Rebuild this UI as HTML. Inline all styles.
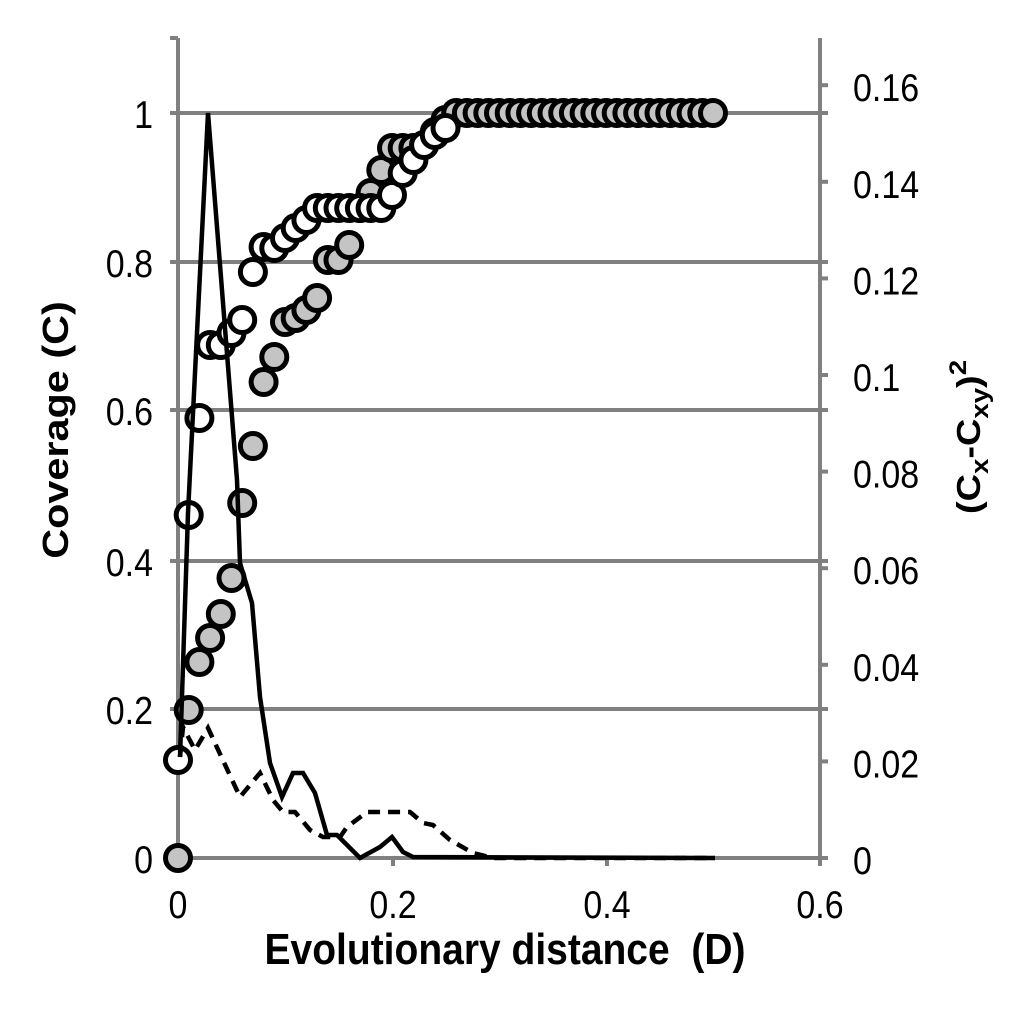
<!DOCTYPE html>
<html><head><meta charset="utf-8"><style>body{margin:0;background:#fff}svg{display:block}</style></head><body>
<svg id="s" width="1031" height="1021" xmlns="http://www.w3.org/2000/svg" font-family="Liberation Sans, Arial, sans-serif">
<g stroke="#808080" stroke-width="4">
<line x1="170" y1="113" x2="828" y2="113"/><line x1="170" y1="262" x2="828" y2="262"/><line x1="170" y1="410" x2="828" y2="410"/><line x1="170" y1="561" x2="828" y2="561"/><line x1="170" y1="709" x2="828" y2="709"/>
<line x1="170" y1="858" x2="828" y2="858"/>
<line x1="178" y1="38" x2="178" y2="866"/><line x1="820" y1="38" x2="820" y2="858"/>
<line x1="393" y1="858" x2="393" y2="866"/><line x1="607" y1="858" x2="607" y2="866"/><line x1="820" y1="858" x2="820" y2="866"/>
<line x1="170" y1="38" x2="178" y2="38"/>
</g>
<g id="rt" stroke="#808080" stroke-width="4"></g>
<g font-size="34" fill="#000" text-anchor="end">
<text transform="translate(153,128) scale(1,1.15)">1</text>
<text transform="translate(153,277) scale(1,1.15)">0.8</text>
<text transform="translate(153,425) scale(1,1.15)">0.6</text>
<text transform="translate(153,576) scale(1,1.15)">0.4</text>
<text transform="translate(153,724) scale(1,1.15)">0.2</text>
<text transform="translate(153,873) scale(1,1.15)">0</text>
</g>
<g font-size="34" fill="#000" text-anchor="start" id="rl"></g>
<g font-size="34" fill="#000" text-anchor="middle">
<text transform="translate(178,918) scale(1,1.15)">0</text>
<text transform="translate(393,918) scale(1,1.15)">0.2</text>
<text transform="translate(607,918) scale(1,1.15)">0.4</text>
<text transform="translate(820,918) scale(1,1.15)">0.6</text>
</g>
<text transform="translate(505,964) scale(1,1.12)" font-size="39" font-weight="bold" text-anchor="middle" xml:space="preserve">Evolutionary distance  (D)</text>
<text transform="translate(68,430) scale(1,1.15) rotate(-90)" font-size="36" font-weight="bold" text-anchor="middle">Coverage (C)</text>
<text transform="translate(980,437) scale(1,1.15) rotate(-90)" font-size="33" font-weight="bold" text-anchor="middle">(C<tspan font-size="24" dy="8">x</tspan><tspan dy="-8">-C</tspan><tspan font-size="24" dy="8">xy</tspan><tspan dy="-8">)</tspan><tspan font-size="24" dy="-14">2</tspan></text>
<g id="pts" stroke="#000" stroke-width="5"></g>
<polyline fill="none" stroke="#000" stroke-width="4.5" stroke-dasharray="12,8" points="180,757 183,727 195,750 208,728 240,797 260,773 273,800 283,812 295,812 310,830 323,837 340,837 347,827 367,812 410,812 423,823 433,825 450,840 473,853 493,858 715,858"/>
<polyline fill="none" stroke="#000" stroke-width="4.5" points="180,757 188,513 208,113 237,480 240,563 252,603 260,697 270,763 282,797 293,773 303,773 315,793 327,835 337,835 360,858 380,847 392,837 403,852 413,857 715,858"/>
</svg>
<script>
var ns="http://www.w3.org/2000/svg";
var rt=document.getElementById('rt'),rl=document.getElementById('rl');
var labs=['0','0.02','0.04','0.06','0.08','0.1','0.12','0.14','0.16'];
for(var i=0;i<9;i++){var y=858-i*96.6;var l=document.createElementNS(ns,'line');l.setAttribute('x1',820);l.setAttribute('x2',828);l.setAttribute('y1',y);l.setAttribute('y2',y);rt.appendChild(l);
var t=document.createElementNS(ns,'text');t.setAttribute('transform','translate(853,'+(y+16)+') scale(1,1.15)');t.textContent=labs[i];rl.appendChild(t);}
var open=[760,515,418,345,345,333,320,272,247,248,238,228,220,208,208,208,208,208,208,208,195,173,160,145,135,128];
var gray=[858,710,662,638,614,578,503,446,382,357,322,318,310,298,260,260,245,208,193,170,148,148,148,145,132,120];
var g=document.getElementById('pts');
function c(x,y,f){var e=document.createElementNS(ns,'circle');e.setAttribute('cx',x);e.setAttribute('cy',y);e.setAttribute('r',12.5);e.setAttribute('fill',f);g.appendChild(e);}
for(var i=0;i<=50;i++){var x=178+i*10.7;c(x,i<gray.length?gray[i]:113,'#c4c4c4');}
for(var i=0;i<=50;i++){var x=178+i*10.7;if(i<open.length)c(x,open[i],'#fff');}
</script>
</body></html>
